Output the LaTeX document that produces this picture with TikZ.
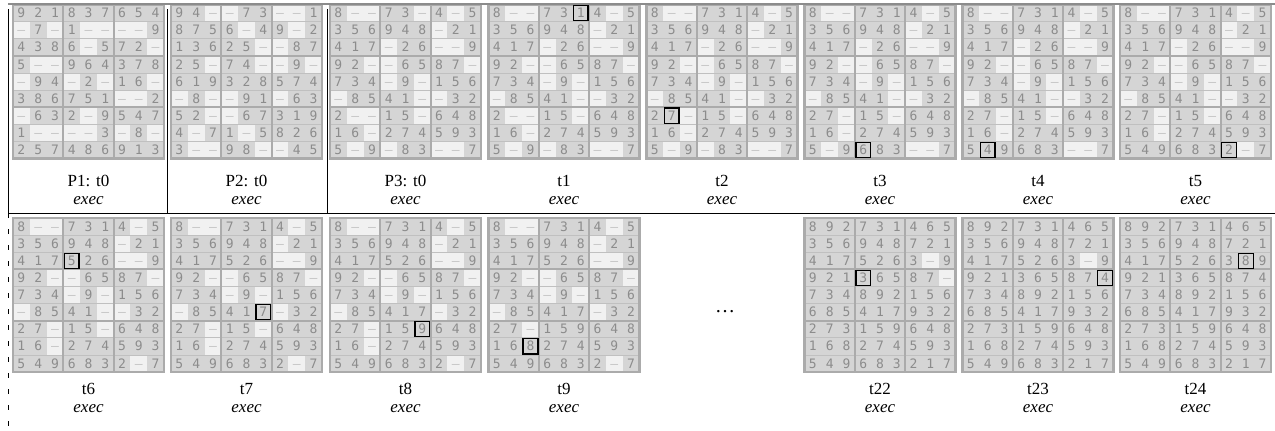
\documentclass[tikz,border=0pt]{standalone}
\usepackage{fontspec}
\setmainfont{Liberation Serif}
\newfontfamily\cellfont{DejaVu Sans Mono}
\definecolor{cellfull}{HTML}{D5D5D5}
\definecolor{cellempty}{HTML}{F1F1F1}
\definecolor{digitgray}{HTML}{8C8C8C}
\definecolor{dashgray}{HTML}{C4C4C4}
\definecolor{boxgray}{HTML}{ABABAB}
\definecolor{rowgray}{HTML}{C0C0C0}
\definecolor{topgray}{HTML}{8C8C8C}

% one Sudoku board: name, left x, top y, nine rows (0 = empty), highlighted row/column
\newcommand\sudoku[6]{%
  \foreach \rowlist [count=\i] in {#4} {
    \foreach \v [count=\j] in \rowlist {
      \pgfmathsetmacro\cx{#2+(\j-0.5)*16.78}
      \pgfmathsetmacro\cy{#3+(\i-0.5)*17.1}
      \ifnum\v=0\relax
        \node[emptycell] (#1-\i-\j) at (\cx,\cy) {\textendash};
      \else
        \node[fullcell] (#1-\i-\j) at (\cx,\cy) {\v};
      \fi
    }
  }
  \foreach \k in {1,2,4,5,7,8}
    \draw[rowrule] (#2,#3+\k*17.1) -- ++(151,0);
  \foreach \k in {3,6} {
    \draw[boxrule] (#2+\k*16.78,#3) -- ++(0,153.9);
    \draw[boxrule] (#2,#3+\k*17.1) -- ++(151,0);
  }
  \draw[boxrule] (#2,#3) rectangle ++(151,153.9);
  \ifnum#5>0\relax
    \draw[hlbox] ([shift={(1.2,1.2)}]#1-#5-#6.north west) rectangle ([shift={(-1.2,-1.2)}]#1-#5-#6.south east);
  \fi
}

% caption under a board: name, centre x, y of first line, first line
\newcommand\steplabel[4]{%
  \node[labtext] (#1-cap) at (#2,#3) {#4};
  \node[labtext] (#1-exec) at (#2,#3+20) {\textit{exec}};
}

\begin{document}
\begin{tikzpicture}[x=1pt,y=-1pt,
  fullcell/.style={rectangle, fill=cellfull, minimum width=16.78pt, minimum height=17.1pt,
    inner sep=0pt, text=digitgray, text height=9.4pt, text depth=0pt,
    font=\cellfont\fontsize{13}{13}\selectfont},
  emptycell/.style={fullcell, fill=cellempty, text=dashgray},
  rowrule/.style={draw=rowgray, line width=0.5pt},
  boxrule/.style={draw=boxgray, line width=2.2pt},
  hlbox/.style={draw=black, line width=1.4pt},
  labtext/.style={inner sep=0pt, font=\fontsize{17}{17}\selectfont, text=black},
  frame/.style={draw=black, line width=0.9pt},
]
\useasboundingbox (0,0) rectangle (1275,431);
\fill[white] (0,0) rectangle (1275,431);

% ---------- upper row ----------
\sudoku{pone}{13}{4.5}{
{9,2,1,8,3,7,6,5,4},
{0,7,0,1,0,0,0,0,9},
{4,3,8,6,0,5,7,2,0},
{5,0,0,9,6,4,3,7,8},
{0,9,4,0,2,0,1,6,0},
{3,8,6,7,5,1,0,0,2},
{0,6,3,2,0,9,5,4,7},
{1,0,0,0,0,3,0,8,0},
{2,5,7,4,8,6,9,1,3}}{0}{0}

\sudoku{ptwo}{171}{4.5}{
{9,4,0,0,7,3,0,0,1},
{8,7,5,6,0,4,9,0,2},
{1,3,6,2,5,0,0,8,7},
{2,5,0,7,4,0,0,9,0},
{6,1,9,3,2,8,5,7,4},
{0,8,0,0,9,1,0,6,3},
{5,2,0,0,6,7,3,1,9},
{4,0,7,1,0,5,8,2,6},
{3,0,0,9,8,0,0,4,5}}{0}{0}

\sudoku{pthree}{330}{4.5}{
{8,0,0,7,3,0,4,0,5},
{3,5,6,9,4,8,0,2,1},
{4,1,7,0,2,6,0,0,9},
{9,2,0,0,6,5,8,7,0},
{7,3,4,0,9,0,1,5,6},
{0,8,5,4,1,0,0,3,2},
{2,0,0,1,5,0,6,4,8},
{1,6,0,2,7,4,5,9,3},
{5,0,9,0,8,3,0,0,7}}{0}{0}

\sudoku{tone}{488.5}{4.5}{
{8,0,0,7,3,1,4,0,5},
{3,5,6,9,4,8,0,2,1},
{4,1,7,0,2,6,0,0,9},
{9,2,0,0,6,5,8,7,0},
{7,3,4,0,9,0,1,5,6},
{0,8,5,4,1,0,0,3,2},
{2,0,0,1,5,0,6,4,8},
{1,6,0,2,7,4,5,9,3},
{5,0,9,0,8,3,0,0,7}}{1}{6}

\sudoku{ttwo}{646.5}{4.5}{
{8,0,0,7,3,1,4,0,5},
{3,5,6,9,4,8,0,2,1},
{4,1,7,0,2,6,0,0,9},
{9,2,0,0,6,5,8,7,0},
{7,3,4,0,9,0,1,5,6},
{0,8,5,4,1,0,0,3,2},
{2,7,0,1,5,0,6,4,8},
{1,6,0,2,7,4,5,9,3},
{5,0,9,0,8,3,0,0,7}}{7}{2}

\sudoku{tthree}{804.5}{4.5}{
{8,0,0,7,3,1,4,0,5},
{3,5,6,9,4,8,0,2,1},
{4,1,7,0,2,6,0,0,9},
{9,2,0,0,6,5,8,7,0},
{7,3,4,0,9,0,1,5,6},
{0,8,5,4,1,0,0,3,2},
{2,7,0,1,5,0,6,4,8},
{1,6,0,2,7,4,5,9,3},
{5,0,9,6,8,3,0,0,7}}{9}{4}

\sudoku{tfour}{962.5}{4.5}{
{8,0,0,7,3,1,4,0,5},
{3,5,6,9,4,8,0,2,1},
{4,1,7,0,2,6,0,0,9},
{9,2,0,0,6,5,8,7,0},
{7,3,4,0,9,0,1,5,6},
{0,8,5,4,1,0,0,3,2},
{2,7,0,1,5,0,6,4,8},
{1,6,0,2,7,4,5,9,3},
{5,4,9,6,8,3,0,0,7}}{9}{2}

\sudoku{tfive}{1120}{4.5}{
{8,0,0,7,3,1,4,0,5},
{3,5,6,9,4,8,0,2,1},
{4,1,7,0,2,6,0,0,9},
{9,2,0,0,6,5,8,7,0},
{7,3,4,0,9,0,1,5,6},
{0,8,5,4,1,0,0,3,2},
{2,7,0,1,5,0,6,4,8},
{1,6,0,2,7,4,5,9,3},
{5,4,9,6,8,3,2,0,7}}{9}{7}

\steplabel{lpone}{88.5}{181}{P1: t0}
\steplabel{lptwo}{246.5}{181}{P2: t0}
\steplabel{lpthree}{405.5}{181}{P3: t0}
\steplabel{ltone}{564}{181}{t1}
\steplabel{lttwo}{722}{181}{t2}
\steplabel{ltthree}{880}{181}{t3}
\steplabel{ltfour}{1038}{181}{t4}
\steplabel{ltfive}{1195.5}{181}{t5}

% ---------- lower row ----------
\sudoku{tsix}{13}{218}{
{8,0,0,7,3,1,4,0,5},
{3,5,6,9,4,8,0,2,1},
{4,1,7,5,2,6,0,0,9},
{9,2,0,0,6,5,8,7,0},
{7,3,4,0,9,0,1,5,6},
{0,8,5,4,1,0,0,3,2},
{2,7,0,1,5,0,6,4,8},
{1,6,0,2,7,4,5,9,3},
{5,4,9,6,8,3,2,0,7}}{3}{4}

\sudoku{tseven}{171}{218}{
{8,0,0,7,3,1,4,0,5},
{3,5,6,9,4,8,0,2,1},
{4,1,7,5,2,6,0,0,9},
{9,2,0,0,6,5,8,7,0},
{7,3,4,0,9,0,1,5,6},
{0,8,5,4,1,7,0,3,2},
{2,7,0,1,5,0,6,4,8},
{1,6,0,2,7,4,5,9,3},
{5,4,9,6,8,3,2,0,7}}{6}{6}

\sudoku{teight}{330}{218}{
{8,0,0,7,3,1,4,0,5},
{3,5,6,9,4,8,0,2,1},
{4,1,7,5,2,6,0,0,9},
{9,2,0,0,6,5,8,7,0},
{7,3,4,0,9,0,1,5,6},
{0,8,5,4,1,7,0,3,2},
{2,7,0,1,5,9,6,4,8},
{1,6,0,2,7,4,5,9,3},
{5,4,9,6,8,3,2,0,7}}{7}{6}

\sudoku{tnine}{488.5}{218}{
{8,0,0,7,3,1,4,0,5},
{3,5,6,9,4,8,0,2,1},
{4,1,7,5,2,6,0,0,9},
{9,2,0,0,6,5,8,7,0},
{7,3,4,0,9,0,1,5,6},
{0,8,5,4,1,7,0,3,2},
{2,7,0,1,5,9,6,4,8},
{1,6,8,2,7,4,5,9,3},
{5,4,9,6,8,3,2,0,7}}{8}{3}

\node[labtext, font=\fontsize{20}{20}\selectfont] (gap) at (725,312) {\dots};

\sudoku{ttwentytwo}{804.5}{218}{
{8,9,2,7,3,1,4,6,5},
{3,5,6,9,4,8,7,2,1},
{4,1,7,5,2,6,3,0,9},
{9,2,1,3,6,5,8,7,0},
{7,3,4,8,9,2,1,5,6},
{6,8,5,4,1,7,9,3,2},
{2,7,3,1,5,9,6,4,8},
{1,6,8,2,7,4,5,9,3},
{5,4,9,6,8,3,2,1,7}}{4}{4}

\sudoku{ttwentythree}{962.5}{218}{
{8,9,2,7,3,1,4,6,5},
{3,5,6,9,4,8,7,2,1},
{4,1,7,5,2,6,3,0,9},
{9,2,1,3,6,5,8,7,4},
{7,3,4,8,9,2,1,5,6},
{6,8,5,4,1,7,9,3,2},
{2,7,3,1,5,9,6,4,8},
{1,6,8,2,7,4,5,9,3},
{5,4,9,6,8,3,2,1,7}}{4}{9}

\sudoku{ttwentyfour}{1120}{218}{
{8,9,2,7,3,1,4,6,5},
{3,5,6,9,4,8,7,2,1},
{4,1,7,5,2,6,3,8,9},
{9,2,1,3,6,5,8,7,4},
{7,3,4,8,9,2,1,5,6},
{6,8,5,4,1,7,9,3,2},
{2,7,3,1,5,9,6,4,8},
{1,6,8,2,7,4,5,9,3},
{5,4,9,6,8,3,2,1,7}}{3}{8}

\steplabel{ltsix}{88.5}{389}{t6}
\steplabel{ltseven}{246.5}{389}{t7}
\steplabel{lteight}{405.5}{389}{t8}
\steplabel{ltnine}{564}{389}{t9}
\steplabel{lttwentytwo}{880}{389}{t22}
\steplabel{lttwentythree}{1038}{389}{t23}
\steplabel{lttwentyfour}{1195.5}{389}{t24}

% ---------- table rules ----------
\coordinate (topL) at (8,4);
\coordinate (topR) at (1275,4);
\coordinate (midL) at (8,213);
\coordinate (midR) at (1275,213);
\coordinate (botL) at (8,431);
\coordinate (sepA) at (167.5,9);
\coordinate (sepAm) at (167.5,213);
\coordinate (sepB) at (327.5,9);
\coordinate (sepBm) at (327.5,213);
\coordinate (leftT) at (8,9);
\draw[draw=topgray, line width=1.8pt] (topL) -- (topR);
\draw[frame] (midL) -- (midR);
\draw[frame] (leftT) -- (midL);
\draw[frame] (sepA) -- (sepAm);
\draw[frame] (sepB) -- (sepBm);
\draw[frame, dash pattern=on 5pt off 11pt] (midL) -- (botL);
\end{tikzpicture}
\end{document}
